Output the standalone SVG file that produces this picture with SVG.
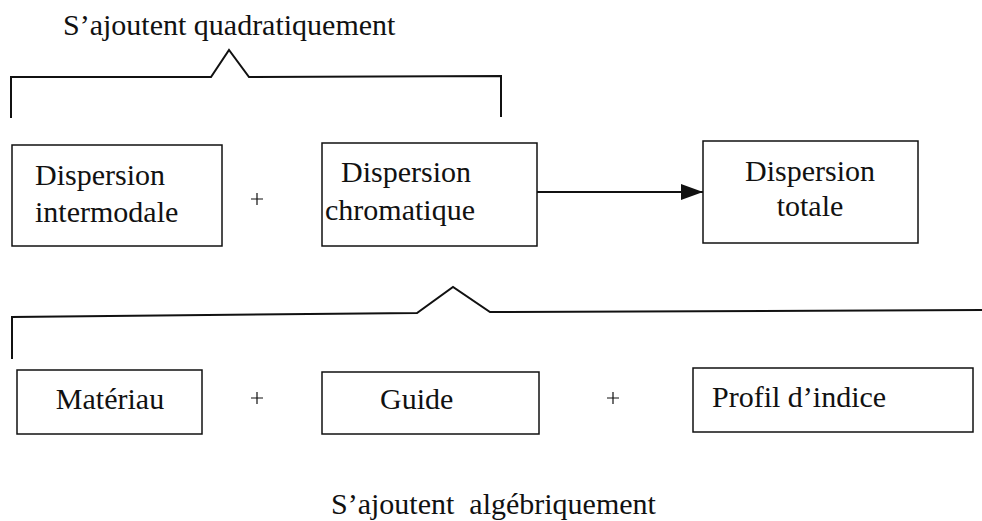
<svg xmlns="http://www.w3.org/2000/svg" width="982" height="521" viewBox="0 0 982 521">
<style>
text{font-family:"Liberation Serif","Times New Roman",serif;font-size:30px;fill:#111}
.box{fill:none;stroke:#111;stroke-width:1.5}
.br{fill:none;stroke:#111;stroke-width:2;stroke-linejoin:miter}
.plus{stroke:#111;stroke-width:1.2}
</style>
<defs>
<marker id="ah" markerWidth="22" markerHeight="16" refX="22" refY="8" orient="auto" markerUnits="userSpaceOnUse">
<path d="M0,0 L22,8 L0,16 Z" fill="#111"/>
</marker>
</defs>
<rect width="982" height="521" fill="#fff"/>
<g id="label-quadratique">
<text x="63" y="35">S’ajoutent quadratiquement</text>
<path class="br" d="M11,118 L11,77 L211,77 L229,50 L249,77 L501,76 L501,117"/>
</g>
<g id="node-intermodale">
<rect class="box" x="12" y="145" width="210" height="101"/>
<text x="35" y="185">Dispersion</text>
<text x="35" y="222">intermodale</text>
</g>
<g id="plus1"><path class="plus" d="M251,199 H263 M257,193 V205"/></g>
<g id="node-chromatique">
<rect class="box" x="322" y="143" width="215" height="103"/>
<text x="341" y="182">Dispersion</text>
<text x="325" y="220">chromatique</text>
</g>
<g id="node-totale">
<rect class="box" x="703" y="141" width="215" height="102"/>
<text x="810" y="181" text-anchor="middle">Dispersion</text>
<text x="810" y="216" text-anchor="middle">totale</text>
</g>
<g id="connectors">
<line x1="537" y1="192" x2="703" y2="192" stroke="#111" stroke-width="2" marker-end="url(#ah)"/>
</g>
<g id="label-algebrique">
<path class="br" d="M12,359 L12,317 L417,313 L453,287 L490,312 L982,310"/>
<text x="331" y="514" xml:space="preserve">S’ajoutent  algébriquement</text>
</g>
<g id="node-materiau">
<rect class="box" x="17" y="370" width="185" height="64"/>
<text x="110" y="409" text-anchor="middle">Matériau</text>
</g>
<g id="plus2"><path class="plus" d="M251,398 H263 M257,392 V404"/></g>
<g id="node-guide">
<rect class="box" x="322" y="372" width="217" height="62"/>
<text x="380" y="409">Guide</text>
</g>
<g id="plus3"><path class="plus" d="M607,398 H619 M613,392 V404"/></g>
<g id="node-profil">
<rect class="box" x="693" y="368" width="280" height="64"/>
<text x="712" y="407">Profil d’indice</text>
</g>
</svg>
